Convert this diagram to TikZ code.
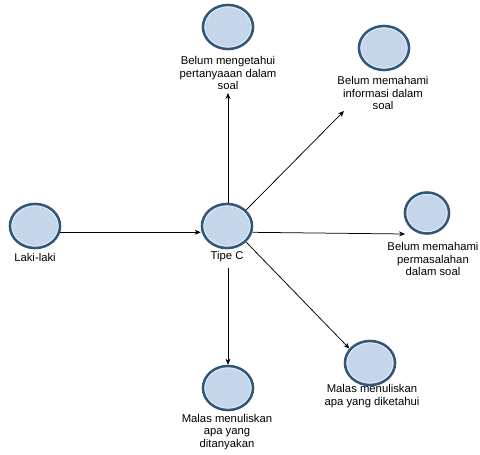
\documentclass[tikz,border=0pt]{standalone}
\usepackage{fontspec}
\setmainfont{Liberation Sans}
\usetikzlibrary{shapes.geometric,arrows.meta}
\definecolor{fillc}{HTML}{C6D6EA}
\definecolor{ringc}{HTML}{325678}
\definecolor{innerc}{HTML}{E2EEFA}
\tikzset{
  state/.style={ellipse, draw=ringc, line width=2.6pt, fill=fillc, minimum width=50pt, minimum height=44pt, inner sep=0pt},
  lbl/.style={align=center, font=\fontsize{11.3pt}{12.4pt}\selectfont, inner sep=1pt},
  arr/.style={-{Stealth[length=6pt,width=5pt]}, line width=0.75pt}
}
\begin{document}
\begin{tikzpicture}[x=1pt,y=-1pt]
\useasboundingbox[fill=white] (0,0) rectangle (480,455);
% circles
\node[state] (lk) at (35,226) {};
\node[state] (tc) at (227,226) {};
\node[state] (q) at (228,27) {};
\node[state] (inf) at (384,48) {};
\node[state, minimum width=44pt, minimum height=41pt] (pm) at (427,213) {};
\node[state] (dk) at (370,363) {};
\node[state] (dt) at (228,388) {};
\foreach \n in {lk,tc,q,inf,dk,dt}{\draw[innerc, line width=0.8pt] (\n) ellipse (23.1 and 20.1);}
\draw[innerc, line width=0.8pt] (pm) ellipse (20.1 and 18.6);
% labels
\node[lbl] (lkl) at (35,257) {Laki-laki};
\node[lbl] (tcl) at (227,257) {Tipe C};
\node[lbl] (ql) at (228,73) {Belum mengetahui\\pertanyaaan dalam\\soal};
\node[lbl] (infl) at (383,93) {Belum memahami\\informasi dalam\\soal};
\node[lbl] (pml) at (433,259) {Belum memahami\\permasalahan\\dalam soal};
\node[lbl] (dkl) at (372,396) {Malas menuliskan\\apa yang diketahui};
\node[lbl] (dtl) at (227,432) {Malas menuliskan\\apa yang\\ditanyakan};
% free ends
\coordinate (qend) at (228,93);
\coordinate (infend) at (344,111);
\coordinate (pmend) at (405,234);
\coordinate (tcs) at (228,268);
% connectors
\draw[arr] (lk.-14) -- (tc.west |- lk.-14);
\draw[arr] (tc.north -| qend) -- (qend);
\draw[arr] (tc.40) -- (infend);
\draw[arr] (tc.-14) -- (pmend);
\draw[arr] (tc.-40) -- (dk.145);
\draw[arr] (tcs) -- (dt.north);
\end{tikzpicture}
\end{document}
